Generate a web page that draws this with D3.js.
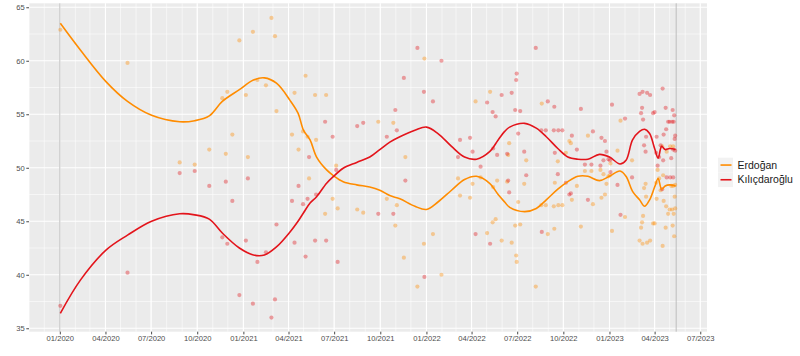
<!DOCTYPE html>
<html><head><meta charset="utf-8">
<script src="https://cdn.jsdelivr.net/npm/d3@7"></script>
<style>body{margin:0;background:#fff}svg{display:block;font-family:"Liberation Sans",Arial,Helvetica,sans-serif}</style>
</head><body><svg id="chart" width="800" height="356"></svg>
<script>
// ---------- data ----------
const seriesNames = ["Erdoğan", "Kılıçdaroğlu"];
const seriesColors = ["#FF8C00", "#E3141B"];

const pollDates = ["2020-01-02","2020-05-15","2020-08-27","2020-09-26","2020-10-25","2020-11-20","2020-11-27","2020-11-30","2020-12-10","2020-12-24",
"2021-01-06","2021-01-10","2021-01-20","2021-01-29","2021-02-15","2021-02-26","2021-03-05","2021-03-08","2021-04-08","2021-04-13",
"2021-04-21","2021-04-30","2021-05-05","2021-05-09","2021-05-12","2021-05-24","2021-05-26","2021-06-13","2021-06-15","2021-06-28",
"2021-07-05","2021-07-08","2021-08-16","2021-08-28","2021-09-27","2021-10-14","2021-10-27","2021-10-31","2021-11-03","2021-11-17",
"2021-11-20","2021-12-14","2021-12-27","2021-12-28","2022-01-14","2022-01-31","2022-03-05","2022-03-09","2022-03-29","2022-04-03",
"2022-04-09","2022-04-19","2022-05-02","2022-05-08","2022-05-13","2022-05-14","2022-05-19","2022-05-22","2022-05-31","2022-06-11",
"2022-06-13","2022-06-15","2022-06-20","2022-06-27","2022-06-29","2022-06-30","2022-07-03","2022-07-07","2022-07-15","2022-07-19",
"2022-08-07","2022-08-18","2022-08-19","2022-08-27","2022-08-31","2022-09-12","2022-09-13","2022-09-14","2022-09-20","2022-09-21",
"2022-09-29","2022-10-06","2022-10-13","2022-10-16","2022-10-18","2022-10-28","2022-11-05","2022-11-13","2022-11-19","2022-11-26",
"2022-11-29","2022-12-14","2022-12-16","2022-12-20","2022-12-23","2022-12-26","2022-12-30","2023-01-02","2023-01-03","2023-01-06",
"2023-01-17","2023-01-23","2023-02-01","2023-02-15","2023-03-02","2023-03-05","2023-03-07","2023-03-08","2023-03-09","2023-03-11",
"2023-03-14","2023-03-15","2023-03-17","2023-03-23","2023-03-29","2023-04-01","2023-04-04","2023-04-05","2023-04-07","2023-04-10",
"2023-04-13","2023-04-16","2023-04-17","2023-04-18","2023-04-19","2023-04-23","2023-04-24","2023-04-25","2023-04-28","2023-05-01",
"2023-05-02","2023-05-04","2023-05-06","2023-05-07","2023-05-08","2023-05-08","2023-05-09","2023-05-10","2023-05-11","2023-05-12",
"2023-05-12"];

const erdoganPolls = [62.9,59.8,50.5,50.3,51.7,56.5,51.3,57.1,53.1,61.9,
56.8,51.0,62.7,58.2,57.7,64.0,62.3,55.3,53.1,57.0,
51.7,53.4,58.6,52.9,49.0,56.8,52.6,45.7,56.8,47.1,
50.2,46.2,46.1,45.8,54.3,47.1,54.2,44.6,46.5,41.6,
51.0,38.9,42.9,60.2,43.8,40.0,49.0,47.4,47.2,48.5,
56.2,49.1,43.9,57.1,44.9,48.2,45.2,48.8,43.2,48.7,
51.2,52.3,43.0,44.6,41.8,41.2,46.8,44.7,48.5,50.7,
38.9,46.5,56.0,46.5,43.8,46.4,44.3,48.6,50.6,46.5,
46.5,51.4,52.5,52.3,47.0,48.3,44.5,49.7,53.0,49.7,
46.6,49.8,47.2,49.4,47.5,48.5,49.2,49.3,50.4,44.1,
51.6,54.4,45.4,50.7,43.2,44.4,44.9,42.9,45.5,48.1,
48.5,47.3,43.0,43.2,44.8,44.8,48.6,47.1,49.8,49.0,
47.9,52.0,42.7,49.3,46.9,44.4,46.4,51.5,45.7,46.1,
52.0,48.3,46.1,44.6,52.0,48.3,45.7,43.6,47.3,48.4,
46.2];

const kilicdarogluPolls = [37.1,40.2,49.5,49.7,48.3,43.5,48.7,42.9,46.9,38.1,
43.2,49.0,37.3,41.2,42.1,36.0,37.7,44.7,46.9,43.0,
48.3,46.6,41.7,47.1,51.0,43.2,47.5,54.3,43.2,52.9,
49.8,41.2,53.9,54.2,45.7,52.9,45.7,55.4,53.5,58.4,
48.8,61.2,57.1,39.8,56.2,60.0,51.0,52.6,52.8,51.5,
43.8,50.1,56.1,42.9,55.2,51.8,54.8,51.2,56.8,51.3,
48.8,47.7,57.0,55.4,58.2,58.8,53.2,55.3,51.5,49.3,
61.2,53.5,44.0,53.5,56.2,53.5,55.7,51.4,49.4,53.5,
53.5,48.6,47.5,47.6,53.0,51.7,55.5,50.3,47.0,50.3,
53.4,50.2,52.8,50.7,52.5,51.5,50.8,50.7,49.6,55.9,
48.4,45.6,54.6,49.1,56.9,55.1,55.6,57.1,54.5,52.1,
51.5,52.9,57.0,56.8,55.1,55.2,51.4,52.9,50.2,51.0,
52.1,48.0,57.4,50.7,53.1,55.6,53.6,49.1,54.3,54.3,
49.1,50.9,54.3,55.4,49.1,51.7,54.3,54.9,52.7,51.6,
53.0];

const trendDates = ["2020-01-02","2020-02-11","2020-04-02","2020-05-15","2020-07-02","2020-08-27","2020-09-26","2020-10-25","2020-11-20","2020-12-24",
"2021-01-21","2021-02-12","2021-03-08","2021-04-04","2021-04-20","2021-05-01","2021-05-14","2021-05-27","2021-06-16","2021-06-30",
"2021-07-19","2021-08-15","2021-09-10","2021-09-30","2021-10-20","2021-11-09","2021-12-09","2022-01-01","2022-01-24","2022-02-20",
"2022-03-18","2022-04-11","2022-05-07","2022-05-24","2022-06-06","2022-06-16","2022-07-16","2022-08-08","2022-08-28","2022-09-20",
"2022-10-10","2022-10-30","2022-11-19","2022-12-12","2023-01-01","2023-01-22","2023-02-03","2023-02-16","2023-03-02","2023-03-12",
"2023-03-22","2023-04-01","2023-04-08","2023-04-15","2023-04-22","2023-05-01","2023-05-13"];

const trendErdogan = [63.5,61.0,58.05,56.2,54.9,54.3,54.4,54.85,56.2,57.3,
58.2,58.4,57.9,56.3,55.1,53.5,52.6,51.0,49.8,49.25,
48.7,48.4,48.2,47.9,47.4,47.1,46.4,46.1,46.8,47.9,
48.9,49.2,48.55,47.5,46.8,46.3,45.9,46.2,47.0,48.0,
48.7,49.2,49.2,48.8,49.2,49.7,49.2,47.8,47.0,46.4,
47.0,48.2,49.0,48.0,48.3,48.4,48.3];

const trendKilicdaroglu = [36.4,39.5,42.3,43.7,45.0,45.7,45.6,45.2,43.9,42.5,
41.85,41.85,42.6,44.0,45.0,45.8,46.7,47.3,48.55,49.2,
49.95,50.5,51.0,51.7,52.4,52.9,53.5,53.8,53.2,52.0,
51.0,50.8,51.5,52.6,53.4,53.8,54.15,53.7,52.9,51.8,
51.0,50.8,50.8,51.25,51.0,50.35,50.7,52.6,53.4,53.6,
53.2,51.8,50.9,52.0,51.7,51.8,51.7];

const markerDates = ["2020-01-01", "2023-05-14"];
const yTicks = [35, 40, 45, 50, 55, 60, 65];
const yMinorTicks = [37.5, 42.5, 47.5, 52.5, 57.5, 62.5];
const xTickLabels = ["01/2020","04/2020","07/2020","10/2020","01/2021","04/2021","07/2021","10/2021","01/2022","04/2022","07/2022","10/2022","01/2023","04/2023","07/2023"];

// ---------- chart ----------
const parse = d3.utcParse("%Y-%m-%d");
const parseTick = d3.utcParse("%m/%Y");
const svg = d3.select("#chart");
const P = {left: 29, right: 707, top: 3.3, bottom: 331.7};

const allDates = pollDates.concat(markerDates).map(parse);
const [dmin, dmax] = d3.extent(allDates);
const span = dmax - dmin;
const x = d3.scaleUtc()
  .domain([new Date(+dmin - 0.05 * span), new Date(+dmax + 0.05 * span)])
  .range([P.left, P.right]);
const y = d3.scaleLinear().domain([34.68, 65.37]).range([P.bottom, P.top]);

svg.append("rect").attr("x", P.left).attr("y", P.top)
  .attr("width", P.right - P.left).attr("height", P.bottom - P.top).attr("fill", "#EBEBEB");

const grid = svg.append("g");
// minor grid
const months = d3.utcMonth.range(x.domain()[0], x.domain()[1]);
grid.selectAll(".vmin").data(months).join("line")
  .attr("x1", d => x(d)).attr("x2", d => x(d)).attr("y1", P.top).attr("y2", P.bottom)
  .attr("stroke", "#fff").attr("stroke-width", 0.55);
grid.selectAll(".hmin").data(yMinorTicks).join("line")
  .attr("x1", P.left).attr("x2", P.right).attr("y1", d => y(d)).attr("y2", d => y(d))
  .attr("stroke", "#fff").attr("stroke-width", 0.55);
// major grid
const xTicks = xTickLabels.map(parseTick);
grid.selectAll(".vmaj").data(xTicks).join("line")
  .attr("x1", d => x(d)).attr("x2", d => x(d)).attr("y1", P.top).attr("y2", P.bottom)
  .attr("stroke", "#fff").attr("stroke-width", 1.1);
grid.selectAll(".hmaj").data(yTicks).join("line")
  .attr("x1", P.left).attr("x2", P.right).attr("y1", d => y(d)).attr("y2", d => y(d))
  .attr("stroke", "#fff").attr("stroke-width", 1.1);

// marker vertical lines
svg.append("g").selectAll("line").data(markerDates.map(parse)).join("line")
  .attr("x1", d => x(d)).attr("x2", d => x(d)).attr("y1", P.top).attr("y2", P.bottom)
  .attr("stroke", "#B8B8B8").attr("stroke-width", 0.9);

// points
const series = [erdoganPolls, kilicdarogluPolls];
series.forEach((vals, i) => {
  svg.append("g").selectAll("circle").data(vals).join("circle")
    .attr("cx", (d, j) => x(parse(pollDates[j])))
    .attr("cy", d => y(d))
    .attr("r", 2.1)
    .attr("fill", seriesColors[i]).attr("fill-opacity", 0.38);
});

// trend lines
const trends = [trendErdogan, trendKilicdaroglu];
const line = d3.line().curve(d3.curveCatmullRom.alpha(0.5))
  .x((d, j) => x(parse(trendDates[j]))).y(d => y(d));
trends.forEach((vals, i) => {
  svg.append("path").datum(vals).attr("d", line)
    .attr("fill", "none").attr("stroke", seriesColors[i]).attr("stroke-width", 1.6);
});

// axes
const yAxis = svg.append("g").attr("transform", `translate(${P.left},0)`)
  .call(d3.axisLeft(y).tickValues(yTicks).tickSize(2.7).tickPadding(1.6));
const xAxis = svg.append("g").attr("transform", `translate(0,${P.bottom})`)
  .call(d3.axisBottom(x).tickValues(xTicks).tickFormat(d3.utcFormat("%m/%Y")).tickSize(2.7).tickPadding(1.6));
[yAxis, xAxis].forEach(a => {
  a.select(".domain").remove();
  a.selectAll(".tick line").attr("stroke", "#333").attr("stroke-width", 0.9);
  a.selectAll(".tick text").attr("fill", "#4D4D4D").style("font-size", "7.6px")
    .style("font-family", "'Liberation Sans', Arial, sans-serif");
});

// legend
const lg = svg.append("g").attr("transform", "translate(718,157.7)");
seriesNames.forEach((name, i) => {
  const g = lg.append("g").attr("transform", `translate(0,${i * 14.7})`);
  g.append("rect").attr("width", 15).attr("height", 14.7).attr("fill", "#F2F2F2");
  g.append("line").attr("x1", 2.5).attr("x2", 13.5).attr("y1", 7.35).attr("y2", 7.35)
    .attr("stroke", seriesColors[i]).attr("stroke-width", 1.6);
  g.append("text").attr("x", 19.5).attr("y", 7.35).attr("dy", "0.35em")
    .style("font-size", "10.5px").attr("fill", "#1A1A1A").text(name);
});
</script></body></html>
